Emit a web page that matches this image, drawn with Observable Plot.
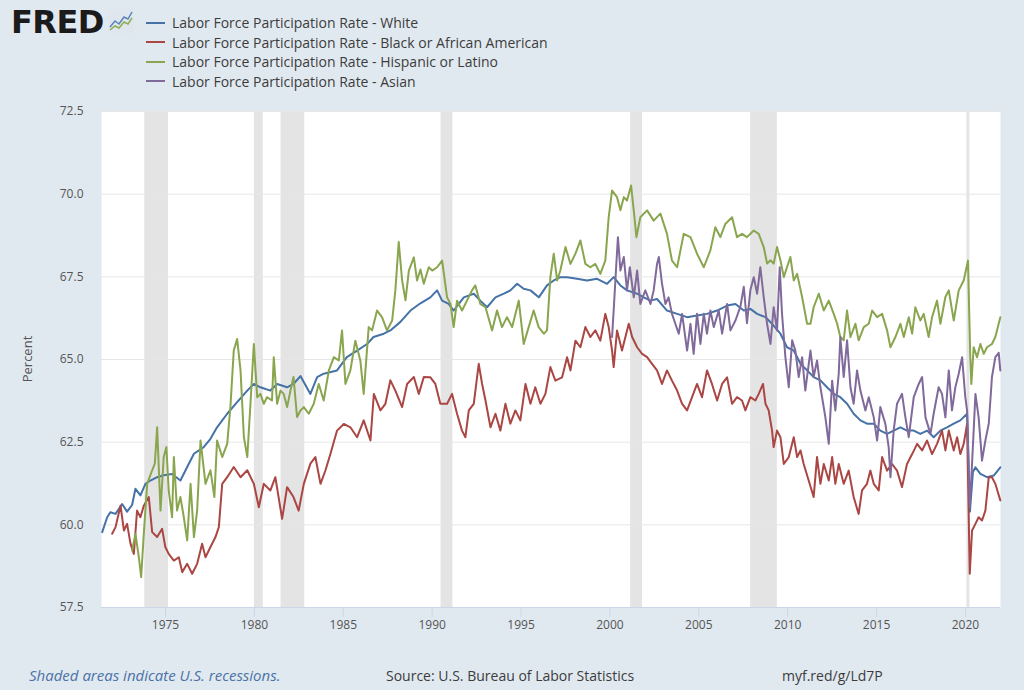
<!DOCTYPE html>
<html>
<head>
<meta charset="utf-8">
<script src="https://cdn.jsdelivr.net/npm/d3@7"></script>
<script src="https://cdn.jsdelivr.net/npm/@observablehq/plot@0.6"></script>
<style>
  html, body { margin: 0; padding: 0; background: #e1e9f0; }
  #wrap { position: relative; width: 1024px; height: 690px; background: #e1e9f0; font-family: "Open Sans", sans-serif; overflow: hidden; }
  #logo { position: absolute; left: 11px; top: 3px; font-family: "DejaVu Sans", sans-serif; font-weight: bold; font-size: 32px; letter-spacing: -0.5px; color: #1b1b1b; line-height: 38px; }
  #icon { position: absolute; left: 108px; top: 9px; }
  #legend { position: absolute; left: 146px; top: 13px; }
  .li { height: 19.5px; display: flex; align-items: center; font-size: 14px; color: #3c3c3c; white-space: nowrap; }
  .li .sw { width: 19px; height: 2px; margin-right: 7px; }
  #chart { position: absolute; left: 0; top: 95px; }
  #ylab { position: absolute; left: 27px; top: 359px; transform: translate(-50%, -50%) rotate(-90deg); font-size: 13px; color: #555; white-space: nowrap; }
  .foot { position: absolute; top: 666px; font-size: 14px; color: #3c3c3c; white-space: nowrap; }
</style>
</head>
<body>
<div id="wrap">
  <div id="logo">FRED</div>
  <svg id="icon" width="26" height="24" viewBox="0 0 26 24">
    <rect x="0" y="0" width="26" height="24" fill="#dfe6ee"/>
    <polyline points="2,18 7,12 11,15 16,8 20,10 24,3" fill="none" stroke="#5b84b8" stroke-width="1.5"/>
    <polyline points="2,21 7,17 11,19 16,13 20,15 24,9" fill="none" stroke="#8cb04f" stroke-width="1.5"/>
  </svg>
  <div id="legend"></div>
  <div id="chart"></div>
  <div id="ylab">Percent</div>
  <div class="foot" style="left:29px; top:665px; font-size:15px; color:#4a72a6; font-style:italic;">Shaded areas indicate U.S. recessions.</div>
  <div class="foot" style="left:386px;">Source: U.S. Bureau of Labor Statistics</div>
  <div class="foot" style="left:782px;">myf.red/g/Ld7P</div>
</div>
<script>
// ---------------- data ----------------
const seriesNames = [
  "Labor Force Participation Rate - White",
  "Labor Force Participation Rate - Black or African American",
  "Labor Force Participation Rate - Hispanic or Latino",
  "Labor Force Participation Rate - Asian"
];
const seriesColors = ["#4572a7", "#aa4643", "#89a54e", "#80699b"];

const whiteYear = [1971.44,1971.72,1971.9,1972.19,1972.56,1972.84,1973.12,1973.31,1973.59,1973.87,1974.15,1974.53,1974.9,1975.37,1975.84,1976.22,1976.6,1977.15,1977.53,1977.9,1978.47,1979.03,1979.6,1979.97,1980.34,1980.9,1981.28,1981.84,1982.2,1982.59,1983.15,1983.53,1983.9,1984.65,1985.2,1985.78,1986.34,1986.7,1987.28,1987.65,1988.2,1988.78,1989.34,1989.9,1990.28,1990.56,1990.93,1991.21,1991.78,1992.34,1992.71,1993.09,1993.56,1994.03,1994.4,1994.78,1995.15,1995.53,1996.0,1996.46,1996.84,1997.21,1997.59,1998.15,1998.71,1999.28,1999.84,2000.21,2000.59,2000.96,2001.53,2001.9,2002.28,2002.65,2003.21,2003.78,2004.34,2004.9,2005.46,2006.03,2006.59,2007.06,2007.53,2007.9,2008.28,2008.75,2009.12,2009.59,2009.96,2010.34,2010.72,2011.09,2011.46,2011.84,2012.21,2012.59,2012.96,2013.34,2013.71,2014.09,2014.46,2014.84,2015.21,2015.59,2015.96,2016.34,2016.71,2017.09,2017.46,2017.84,2018.21,2018.59,2018.96,2019.34,2019.71,2020.09,2020.25,2020.42,2020.56,2020.84,2021.21,2021.59,2021.96];
const whiteRate = [59.78,60.23,60.38,60.33,60.63,60.4,60.6,61.09,60.89,61.24,61.34,61.44,61.5,61.54,61.34,61.75,62.15,62.35,62.6,62.95,63.36,63.71,64.06,64.26,64.16,64.06,64.26,64.16,64.26,64.5,63.96,64.47,64.57,64.67,65.07,65.27,65.47,65.68,65.78,65.88,66.13,66.48,66.7,66.88,67.09,66.78,66.68,66.48,66.88,66.99,66.78,66.58,66.88,66.99,67.09,67.29,67.14,67.09,66.88,67.24,67.39,67.49,67.49,67.44,67.39,67.44,67.29,67.49,67.24,67.09,66.99,66.88,66.78,66.83,66.48,66.38,66.28,66.33,66.38,66.48,66.63,66.68,66.48,66.53,66.38,66.28,66.08,65.78,65.37,65.27,64.87,64.67,64.47,64.37,64.16,63.96,63.86,63.66,63.36,63.16,63.06,63.06,62.85,62.75,62.85,62.95,62.85,62.85,62.75,62.85,62.65,62.85,62.95,63.06,63.16,63.36,60.4,61.6,61.74,61.54,61.44,61.49,61.74];

const blackYear = [1972.0,1972.19,1972.47,1972.66,1972.84,1973.03,1973.22,1973.4,1973.59,1973.78,1974.06,1974.25,1974.53,1974.81,1974.99,1975.18,1975.47,1975.75,1975.94,1976.22,1976.5,1976.78,1977.06,1977.25,1977.53,1977.81,1978.0,1978.19,1978.47,1978.84,1979.22,1979.6,1979.97,1980.25,1980.53,1980.9,1981.18,1981.56,1981.84,1982.2,1982.49,1982.78,1983.15,1983.43,1983.72,1984.0,1984.28,1984.65,1985.03,1985.4,1985.78,1986.15,1986.53,1986.72,1987.09,1987.37,1987.65,1987.93,1988.31,1988.59,1988.97,1989.25,1989.53,1989.9,1990.18,1990.46,1990.84,1991.12,1991.4,1991.68,1991.87,1992.06,1992.34,1992.62,1992.81,1993.0,1993.28,1993.56,1993.84,1994.12,1994.4,1994.68,1994.96,1995.25,1995.53,1995.8,1996.09,1996.37,1996.65,1996.93,1997.31,1997.59,1997.78,1998.06,1998.34,1998.62,1998.9,1999.18,1999.46,1999.74,1999.93,2000.12,2000.21,2000.4,2000.68,2000.87,2001.06,2001.25,2001.53,2001.81,2002.09,2002.37,2002.65,2002.93,2003.21,2003.49,2003.78,2004.06,2004.34,2004.62,2004.9,2005.18,2005.46,2005.74,2006.03,2006.31,2006.59,2006.87,2007.15,2007.43,2007.62,2007.9,2008.18,2008.37,2008.61,2008.75,2008.93,2009.12,2009.21,2009.4,2009.59,2009.78,2010.06,2010.34,2010.53,2010.72,2010.9,2011.18,2011.46,2011.65,2011.84,2012.03,2012.31,2012.5,2012.68,2012.87,2013.15,2013.43,2013.71,2013.99,2014.18,2014.46,2014.65,2014.84,2015.12,2015.31,2015.59,2015.87,2016.15,2016.43,2016.71,2017.0,2017.28,2017.56,2017.84,2018.12,2018.4,2018.68,2018.87,2019.06,2019.34,2019.53,2019.71,2019.9,2020.09,2020.24,2020.37,2020.56,2020.74,2020.93,2021.12,2021.31,2021.49,2021.68,2021.96];
const blackRate = [59.73,59.93,60.58,59.83,60.03,59.43,59.12,60.43,60.23,60.58,60.84,59.78,59.63,59.88,59.33,59.12,58.92,59.02,58.57,58.82,58.52,58.82,59.43,59.02,59.33,59.63,59.93,61.24,61.44,61.75,61.44,61.65,61.24,60.53,61.24,61.04,61.44,60.18,61.14,60.84,60.43,61.24,61.85,62.05,61.24,61.65,62.15,62.85,63.05,62.95,62.65,63.16,62.55,63.96,63.46,63.66,64.37,64.06,63.56,64.26,64.47,63.96,64.47,64.46,64.26,63.66,63.66,63.96,63.36,62.85,62.65,63.46,63.66,64.87,64.26,63.76,62.95,63.36,62.85,63.66,63.06,63.46,63.16,64.26,63.66,64.16,63.66,63.96,64.77,64.36,64.46,65.07,64.67,65.57,65.37,65.98,65.68,65.88,65.57,66.38,65.98,65.27,64.77,65.88,65.27,65.68,66.08,65.68,65.37,65.17,65.07,64.87,64.67,64.26,64.67,64.36,64.06,63.66,63.46,63.86,64.26,63.86,64.67,64.26,63.76,64.26,64.46,63.66,63.86,63.76,63.46,63.86,63.76,63.96,64.26,63.66,63.46,62.85,62.35,62.85,62.65,61.84,62.05,62.65,62.05,62.25,61.84,61.34,60.84,62.05,61.24,61.84,61.34,62.05,61.24,61.84,61.24,61.64,60.84,60.33,61.04,61.24,61.64,61.24,61.04,62.05,61.64,61.84,61.64,61.14,61.84,62.14,62.45,62.25,62.55,62.14,62.45,62.85,62.25,62.85,62.25,62.65,62.14,62.45,63.05,58.52,59.83,60.03,60.23,60.13,60.43,61.44,61.44,61.24,60.74];

const hispYear = [1973.12,1973.31,1973.5,1973.63,1973.78,1973.97,1974.25,1974.4,1974.53,1974.72,1974.9,1975.05,1975.18,1975.37,1975.47,1975.65,1975.84,1976.03,1976.22,1976.41,1976.6,1976.78,1976.97,1977.25,1977.53,1977.75,1977.9,1978.19,1978.47,1978.65,1978.84,1979.03,1979.22,1979.41,1979.6,1979.78,1979.97,1980.16,1980.34,1980.53,1980.71,1980.99,1981.09,1981.28,1981.47,1981.65,1981.84,1982.03,1982.2,1982.4,1982.59,1982.78,1983.06,1983.34,1983.62,1983.9,1984.19,1984.47,1984.75,1984.93,1985.12,1985.4,1985.68,1985.96,1986.15,1986.43,1986.62,1986.9,1987.18,1987.46,1987.75,1987.93,1988.12,1988.31,1988.5,1988.69,1988.97,1989.15,1989.34,1989.53,1989.81,1990.0,1990.28,1990.56,1990.84,1991.03,1991.21,1991.4,1991.68,1991.96,1992.24,1992.43,1992.71,1993.0,1993.37,1993.65,1993.93,1994.21,1994.5,1994.87,1995.15,1995.43,1995.71,1995.99,1996.28,1996.46,1996.65,1996.84,1997.03,1997.21,1997.5,1997.78,1998.06,1998.34,1998.62,1998.9,1999.18,1999.46,1999.74,1999.93,2000.12,2000.4,2000.59,2000.78,2000.96,2001.19,2001.34,2001.49,2001.71,2002.09,2002.46,2002.84,2003.21,2003.49,2003.78,2004.15,2004.53,2004.9,2005.28,2005.65,2005.93,2006.21,2006.49,2006.87,2007.15,2007.43,2007.71,2008.09,2008.37,2008.65,2008.84,2009.03,2009.21,2009.4,2009.59,2009.78,2009.96,2010.15,2010.34,2010.53,2010.81,2011.09,2011.28,2011.46,2011.75,2012.03,2012.31,2012.59,2012.78,2012.96,2013.15,2013.34,2013.53,2013.81,2013.99,2014.28,2014.56,2014.75,2015.03,2015.31,2015.59,2015.78,2016.06,2016.34,2016.53,2016.81,2017.0,2017.18,2017.46,2017.65,2017.93,2018.12,2018.4,2018.59,2018.87,2019.06,2019.34,2019.62,2019.9,2020.14,2020.27,2020.33,2020.46,2020.65,2020.84,2021.03,2021.21,2021.49,2021.68,2021.96];
const hispRate = [59.22,59.73,59.02,58.42,59.73,61.24,61.65,61.85,62.95,60.43,62.05,62.35,61.04,60.23,62.05,60.43,60.84,60.23,59.53,61.24,59.63,60.43,62.55,61.24,61.65,60.84,62.55,62.05,62.45,63.56,65.27,65.62,64.67,62.65,62.05,63.66,65.47,63.86,63.96,63.66,63.86,63.76,65.07,63.66,64.06,63.96,63.56,64.06,64.47,63.26,63.46,63.56,63.36,63.66,64.26,63.76,64.67,65.07,64.97,65.88,64.26,64.67,65.57,64.97,63.96,65.98,65.88,66.48,66.28,65.88,66.18,67.09,68.55,67.39,66.79,67.69,68.09,67.39,67.72,67.29,67.79,67.69,67.79,67.99,66.88,66.68,65.98,66.78,66.48,66.78,67.09,67.24,66.68,66.58,65.88,66.48,65.98,66.28,65.98,66.78,65.47,65.98,66.48,65.98,65.78,65.88,67.49,68.2,67.39,67.69,68.4,67.89,68.2,68.6,67.89,67.79,67.89,67.59,67.99,69.3,70.11,69.91,69.51,69.91,69.81,70.26,69.51,68.7,69.3,69.51,69.2,69.41,68.8,67.99,67.79,68.8,68.7,68.2,67.79,68.3,69.0,68.7,69.1,69.3,68.7,68.8,68.7,68.9,68.8,68.4,67.9,68.0,67.9,68.4,68.0,67.49,67.79,68.1,67.39,67.59,66.89,66.08,66.08,66.58,66.99,66.48,66.78,66.38,66.08,65.68,65.58,66.48,65.68,66.08,65.58,65.98,66.08,66.48,66.28,66.38,65.88,65.37,65.68,66.08,65.68,66.28,65.78,66.58,66.18,66.38,65.68,66.28,66.78,66.08,66.89,67.09,66.18,67.09,67.39,67.99,65.07,64.26,65.37,65.07,65.47,65.17,65.37,65.47,65.68,66.28];

const asianYear = [2000.12,2000.21,2000.36,2000.45,2000.59,2000.78,2000.96,2001.12,2001.34,2001.53,2001.71,2001.99,2002.28,2002.46,2002.65,2002.75,2002.93,2003.12,2003.3,2003.49,2003.68,2003.87,2004.06,2004.34,2004.53,2004.71,2004.9,2005.09,2005.28,2005.46,2005.65,2005.84,2006.12,2006.31,2006.59,2006.78,2007.06,2007.34,2007.53,2007.71,2007.9,2008.09,2008.28,2008.46,2008.65,2008.84,2009.03,2009.21,2009.4,2009.55,2009.68,2009.87,2010.06,2010.25,2010.43,2010.62,2010.81,2010.99,2011.28,2011.46,2011.65,2011.84,2012.12,2012.31,2012.5,2012.68,2012.87,2012.96,2013.15,2013.34,2013.53,2013.71,2013.9,2014.09,2014.37,2014.56,2014.84,2015.03,2015.21,2015.49,2015.68,2015.78,2015.96,2016.15,2016.43,2016.62,2016.81,2017.09,2017.37,2017.56,2017.75,2018.03,2018.21,2018.49,2018.68,2018.87,2019.06,2019.24,2019.43,2019.62,2019.81,2019.99,2020.09,2020.24,2020.37,2020.56,2020.74,2020.93,2021.12,2021.31,2021.49,2021.68,2021.87,2021.96];
const asianRate = [65.68,66.48,67.89,68.7,67.69,68.1,67.09,67.79,66.88,67.69,66.68,67.09,66.68,67.09,67.89,68.1,67.29,66.68,66.88,66.38,66.08,65.78,66.38,65.27,66.08,65.17,66.38,65.47,66.38,65.78,66.48,65.98,66.48,65.78,66.68,65.88,66.18,66.6,67.2,66.1,67.1,67.49,66.99,67.79,66.89,66.08,65.47,66.58,65.88,67.79,66.38,65.07,64.16,65.58,65.27,64.47,65.07,64.06,65.27,64.47,64.97,64.16,63.25,62.45,64.36,63.46,64.57,65.68,64.47,65.58,64.16,63.66,64.67,64.06,63.46,63.86,63.25,62.55,63.56,63.06,62.35,61.44,62.85,63.66,63.96,63.25,62.65,63.86,64.26,64.47,63.25,62.75,63.36,64.16,63.96,63.25,64.67,63.46,64.16,64.57,65.07,63.86,63.46,60.54,61.84,63.96,63.25,61.94,62.55,63.06,64.47,65.07,65.2,64.67];

const recessionStart = [1973.833, 1980.0, 1981.5, 1990.5, 2001.167, 2007.917, 2020.083];
const recessionEnd   = [1975.167, 1980.5, 1982.833, 1991.167, 2001.833, 2009.417, 2020.25];

const yTicks = [57.5, 60, 62.5, 65, 67.5, 70, 72.5];
const xTicks = [1975, 1980, 1985, 1990, 1995, 2000, 2005, 2010, 2015, 2020];

// ---------------- build ----------------
const years = [whiteYear, blackYear, hispYear, asianYear];
const rates = [whiteRate, blackRate, hispRate, asianRate];
const rows = [];
years.forEach((ys, s) => ys.forEach((y, i) => rows.push({year: y, value: rates[s][i], series: seriesNames[s]})));
const recessions = recessionStart.map((s, i) => ({start: s, end: recessionEnd[i]}));

const legend = document.getElementById("legend");
seriesNames.forEach((n, i) => {
  const d = document.createElement("div");
  d.className = "li";
  d.innerHTML = `<span class="sw" style="background:${seriesColors[i]}"></span><span>${n}</span>`;
  legend.appendChild(d);
});

const chart = Plot.plot({
  width: 1024,
  height: 570,
  marginTop: 16,
  marginBottom: 58,
  marginLeft: 101,
  marginRight: 24,
  style: {fontFamily: "Open Sans, sans-serif", fontSize: "12px", background: "transparent"},
  x: {type: "linear", domain: [1971.4, 2021.97]},
  y: {domain: [57.5, 72.5]},
  color: {domain: seriesNames, range: seriesColors},
  marks: [
    Plot.frame({fill: "white", stroke: "none"}),
    Plot.rect(recessions, {x1: "start", x2: "end", fill: "#e4e4e4"}),
    Plot.gridY(yTicks, {stroke: "#e6e6e6", strokeOpacity: 1, strokeWidth: 1}),
    Plot.ruleY([57.5], {stroke: "#ccd6eb", strokeWidth: 1}),
    Plot.axisY(yTicks, {tickSize: 0, tickPadding: 18, tickFormat: d3.format(".1f"), fill: "#555", fontSize: 12, label: null}),
    Plot.axisX(xTicks, {tickSize: 10, tickPadding: 3, stroke: "#ccd6eb", fill: "#555", fontSize: 12, tickFormat: d => String(d), label: null}),
    Plot.line(rows, {x: "year", y: "value", z: "series", stroke: "series", strokeWidth: 2, strokeLinejoin: "round", curve: "linear"})
  ]
});
document.getElementById("chart").appendChild(chart);
</script>
</body>
</html>
